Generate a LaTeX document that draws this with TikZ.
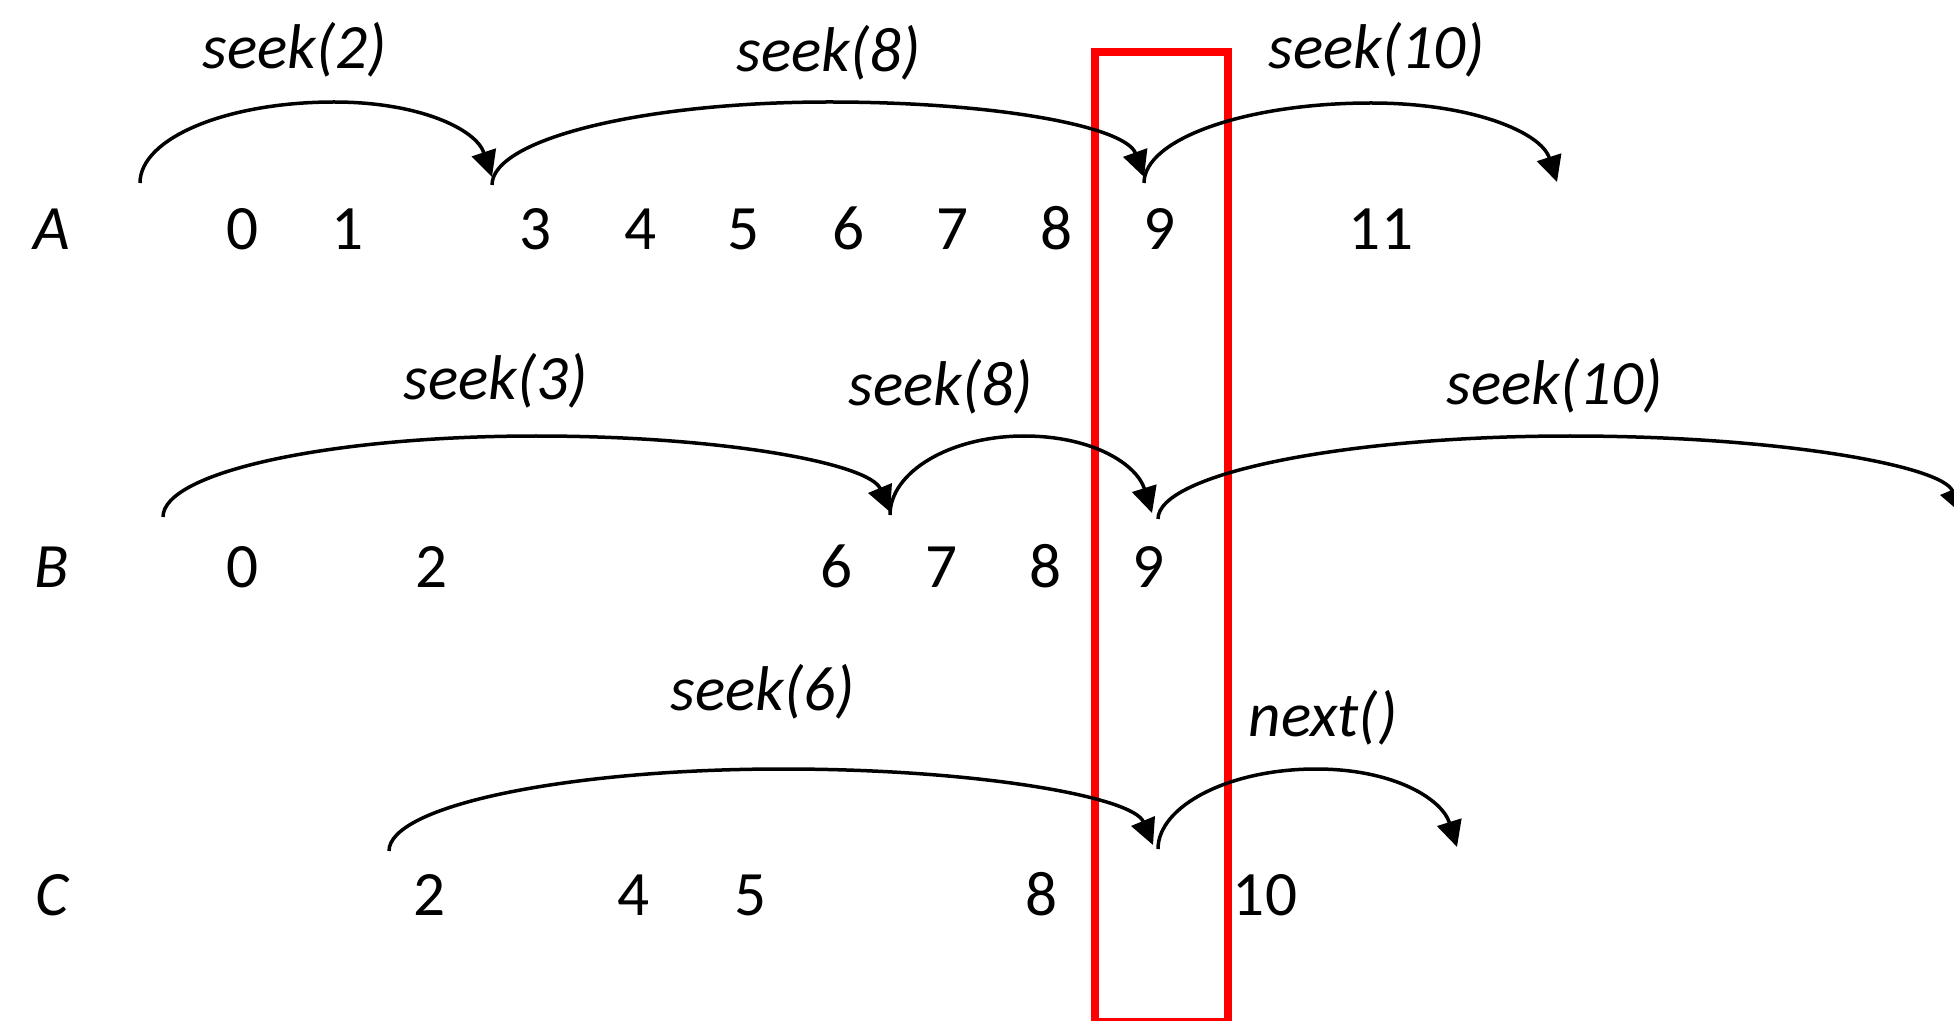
\documentclass[tikz,border=0pt]{standalone}
\usepackage{fontspec}
\setmainfont{Carlito}
\usetikzlibrary{arrows.meta}
\begin{document}
\begin{tikzpicture}[x=0.5pt,y=-0.5pt,
  txt/.style={anchor=base,inner sep=0pt,font=\fontsize{31.6}{38}\selectfont},
  lbl/.style={txt,font=\fontsize{31.6}{38}\selectfont\itshape},
  jump/.style={line width=1.75pt,-{Triangle[length=13pt,width=12.5pt]}},
  window/.style={draw=red,line width=3.8pt}]
\useasboundingbox (0,0) rectangle (1954,1021);
% red window
\draw[window] (1095,52) rectangle (1228,1022);
% row labels
\node[lbl] (LA) at (52,250) {A};
\node[lbl] (LB) at (52,587) {B};
\node[lbl] (LC) at (52,915) {C};
% row A digits
\foreach \v/\x in {0/243,1/348,3/536,4/641,5/744,6/849,7/953,8/1057,9/1160,11/1381}
  \node[txt] (a\v) at (\x,250) {\v};
% row B digits
\foreach \v/\x in {0/243,2/432,6/837,7/942,8/1046,9/1149}
  \node[txt] (b\v) at (\x,587) {\v};
% row C digits
\foreach \v/\x in {2/430,4/634,5/751,8/1042,10/1265}
  \node[txt] (c\v) at (\x,915) {\v};
% operation labels
\node[lbl] (sA1) at (295,69) {seek(2)};
\node[lbl] (sA2) at (829,72) {seek(8)};
\node[lbl] (sA3) at (1377,69) {seek(10)};
\node[lbl] (sB1) at (496,400) {seek(3)};
\node[lbl] (sB2) at (941,406) {seek(8)};
\node[lbl] (sB3) at (1555,405) {seek(10)};
\node[lbl] (sC1) at (763,710) {seek(6)};
\node[lbl] (sC2) at (1323,736) {next()};
% arc points
\coordinate (A1s) at (140,183); \coordinate (A1p) at (334,102); \coordinate (A1e) at (492,177);
\coordinate (A2s) at (492,185); \coordinate (A2p) at (829,102); \coordinate (A2e) at (1144,177);
\coordinate (A3s) at (1144,183); \coordinate (A3p) at (1371,103); \coordinate (A3e) at (1557,182);
\coordinate (B1s) at (163,517); \coordinate (B1p) at (536,436); \coordinate (B1e) at (890,512);
\coordinate (B2s) at (890,515); \coordinate (B2p) at (1024,436); \coordinate (B2e) at (1152,513);
\coordinate (B3s) at (1158,519); \coordinate (B3p) at (1570,436); \coordinate (B3e) at (1962,514);
\coordinate (C1s) at (389,851); \coordinate (C1p) at (783,769); \coordinate (C1e) at (1153,845);
\coordinate (C2s) at (1158,849); \coordinate (C2p) at (1316,769); \coordinate (C2e) at (1457,847);
% arcs
\draw[jump] (A1s) .. controls +(0,-45) and +(-107,0) .. (A1p) .. controls +(85,0) and +(-16,-48) .. (A1e);
\draw[jump] (A2s) .. controls +(0,-46) and +(-185,0) .. (A2p) .. controls +(170,0) and +(-18,-50) .. (A2e);
\draw[jump] (A3s) .. controls +(0,-44) and +(-125,0) .. (A3p) .. controls +(100,0) and +(-16,-50) .. (A3e);
\draw[jump] (B1s) .. controls +(0,-45) and +(-205,0) .. (B1p) .. controls +(190,0) and +(-20,-48) .. (B1e);
\draw[jump] (B2s) .. controls +(0,-43) and +(-74,0) .. (B2p) .. controls +(70,0) and +(-15,-48) .. (B2e);
\draw[jump] (B3s) .. controls +(0,-45) and +(-226,0) .. (B3p) .. controls +(210,0) and +(-20,-48) .. (B3e);
\draw[jump] (C1s) .. controls +(0,-45) and +(-217,0) .. (C1p) .. controls +(195,0) and +(-20,-48) .. (C1e);
\draw[jump] (C2s) .. controls +(0,-43) and +(-87,0) .. (C2p) .. controls +(78,0) and +(-15,-48) .. (C2e);
\end{tikzpicture}
\end{document}
